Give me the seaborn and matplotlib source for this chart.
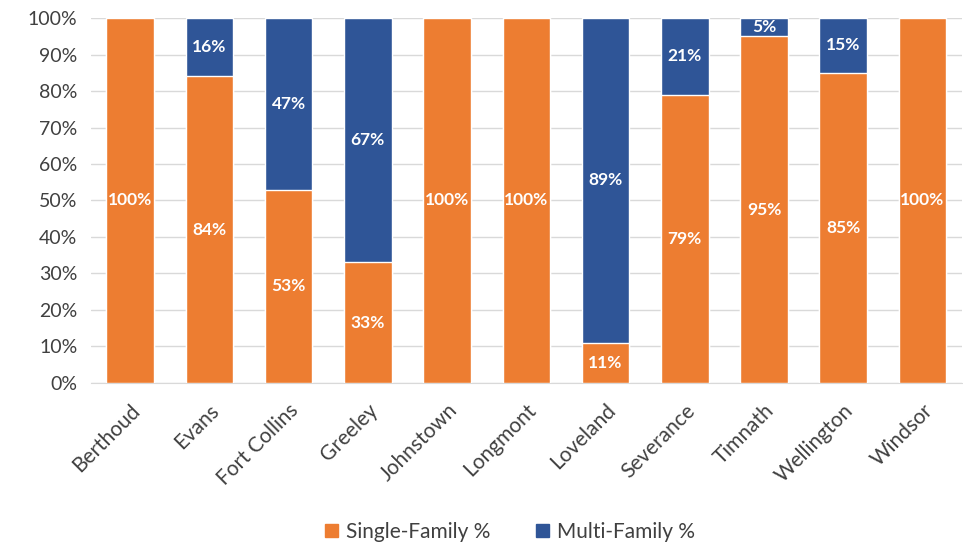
import numpy as np
import pandas as pd
import matplotlib
matplotlib.use("Agg")
import matplotlib.pyplot as plt
from matplotlib.patches import Patch
import seaborn as sns

towns = ["Berthoud", "Evans", "Fort Collins", "Greeley", "Johnstown", "Longmont",
         "Loveland", "Severance", "Timnath", "Wellington", "Windsor"]
single_pct = [100, 84, 53, 33, 100, 100, 11, 79, 95, 85, 100]
multi_pct = [0, 16, 47, 67, 0, 0, 89, 21, 5, 15, 0]

orange = "#ED7D31"
blue = "#2F5597"

df = pd.DataFrame({"Town": towns, "Single": single_pct, "Multi": multi_pct})
df["Total"] = df["Single"] + df["Multi"]

sns.set_style("white")
plt.rcParams["font.family"] = ["Lato", "DejaVu Sans"]

fig = plt.figure(figsize=(9.63, 5.47), dpi=100)
ax = fig.add_axes([0.094, 0.30, 0.905, 0.667])

# stacked: total in blue underneath, single-family in orange on top of it
sns.barplot(data=df, x="Town", y="Total", color=blue, width=0.6, saturation=1, ax=ax, zorder=2)
sns.barplot(data=df, x="Town", y="Single", color=orange, width=0.6, saturation=1, ax=ax, zorder=3)

for i, (s, m) in enumerate(zip(single_pct, multi_pct)):
    if s > 0:
        ax.text(i, s / 2, f"{s}%", ha="center", va="center", color="white",
                fontsize=12.5, fontweight="bold", zorder=4)
    if m > 0:
        ax.text(i, s + m / 2, f"{m}%", ha="center", va="center", color="white",
                fontsize=12.5, fontweight="bold", zorder=4)

ax.set_ylim(0, 100)
ax.set_xlim(-0.5, 10.5)
ax.set_yticks(np.arange(0, 101, 10))
ax.set_yticklabels([f"{v}%" for v in range(0, 101, 10)], fontsize=14, color="#404040")
ax.set_xticks(range(len(towns)))
ax.set_xticklabels(towns, rotation=45, ha="right", rotation_mode="anchor",
                   fontsize=15, color="#404040")
ax.tick_params(axis="x", pad=9)
ax.tick_params(axis="y", pad=6)
ax.set_xlabel("")
ax.set_ylabel("")
ax.grid(axis="y", color="#D9D9D9", linewidth=1, zorder=0)
ax.set_axisbelow(True)
for sp in ax.spines.values():
    sp.set_visible(False)
ax.spines["bottom"].set_visible(True)
ax.spines["bottom"].set_color("#D9D9D9")

handles = [Patch(color=orange, label="Single-Family %"), Patch(color=blue, label="Multi-Family %")]
fig.legend(handles=handles, loc="lower center", bbox_to_anchor=(0.53, -0.025), ncol=2,
           frameon=False, fontsize=15, handlelength=0.6, handleheight=0.6,
           columnspacing=2.2, handletextpad=0.4, labelcolor="#404040")

fig.savefig("out.png", dpi=100)
